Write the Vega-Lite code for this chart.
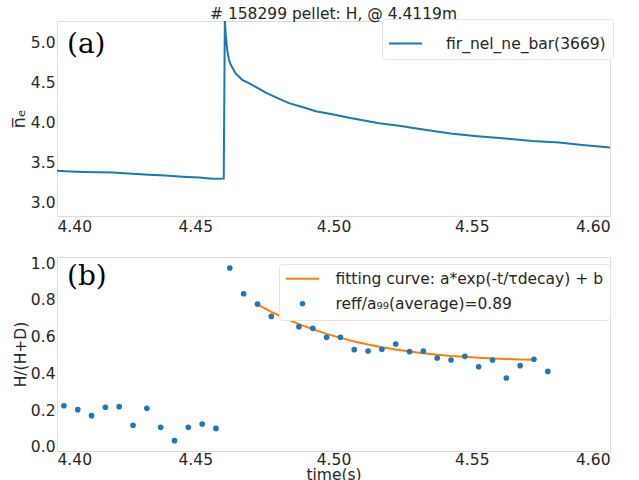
{
  "$schema": "https://vega.github.io/schema/vega-lite/v6.json",
  "background": "white",
  "padding": {"left": 9, "top": 6, "right": 5, "bottom": 0},
  "spacing": 20,
  "config": {
    "font": "DejaVu Sans",
    "view": {"stroke": "#dcdcdc", "strokeWidth": 1},
    "axis": {"domain": false, "ticks": false, "grid": false, "labelOverlap": false, "labelFontSize": 15.5, "labelColor": "#262626", "titleFontSize": 15.5, "titleFontWeight": "normal", "titleColor": "#262626", "labelPadding": 3}
  },
  "resolve": {"scale": {"color": "independent"}, "legend": {"color": "independent"}},
  "vconcat": [
    {
      "width": 553,
      "height": 195,
      "title": {"text": "# 158299 pellet: H, @ 4.4119m", "fontSize": 15.5, "fontWeight": "normal", "color": "#262626", "anchor": "middle", "offset": -4},
      "encoding": {
        "x": {"field": "t", "type": "quantitative", "scale": {"domain": [4.40, 4.60], "nice": false, "zero": false}, "axis": {"values": [4.40, 4.45, 4.50, 4.55, 4.60], "format": ".2f", "title": null, "labelOverlap": false}},
        "y": {"field": "ne", "type": "quantitative", "scale": {"domain": [2.838, 5.261], "nice": false, "zero": false}, "axis": {"values": [3.0, 3.5, 4.0, 4.5, 5.0], "format": ".1f", "title": "n̅ₑ", "titleFontSize": 18, "labelPadding": 2, "titlePadding": 2, "labelOverlap": false}}
      },
      "layer": [
        {
          "data": {"values": [
            {"t": 4.400, "ne": 3.401}, {"t": 4.405, "ne": 3.392}, {"t": 4.410, "ne": 3.386}, {"t": 4.4152, "ne": 3.381},
            {"t": 4.420, "ne": 3.378}, {"t": 4.4272, "ne": 3.364}, {"t": 4.4333, "ne": 3.350}, {"t": 4.4393, "ne": 3.340},
            {"t": 4.4453, "ne": 3.327}, {"t": 4.4514, "ne": 3.315}, {"t": 4.4562, "ne": 3.302}, {"t": 4.4603, "ne": 3.305},
            {"t": 4.4607, "ne": 5.26}, {"t": 4.4610, "ne": 5.10}, {"t": 4.4616, "ne": 4.89}, {"t": 4.4622, "ne": 4.78},
            {"t": 4.4628, "ne": 4.72}, {"t": 4.4646, "ne": 4.61}, {"t": 4.467, "ne": 4.53}, {"t": 4.4694, "ne": 4.49},
            {"t": 4.4725, "ne": 4.43}, {"t": 4.4755, "ne": 4.37}, {"t": 4.480, "ne": 4.30}, {"t": 4.4839, "ne": 4.24},
            {"t": 4.489, "ne": 4.19}, {"t": 4.4936, "ne": 4.14}, {"t": 4.500, "ne": 4.10}, {"t": 4.5056, "ne": 4.06},
            {"t": 4.5165, "ne": 3.99}, {"t": 4.5237, "ne": 3.96}, {"t": 4.533, "ne": 3.91}, {"t": 4.543, "ne": 3.86},
            {"t": 4.552, "ne": 3.83}, {"t": 4.5623, "ne": 3.80}, {"t": 4.572, "ne": 3.77}, {"t": 4.5816, "ne": 3.75},
            {"t": 4.590, "ne": 3.72}, {"t": 4.600, "ne": 3.69}
          ]},
          "mark": {"type": "line", "strokeWidth": 2, "clip": true},
          "encoding": {
            "color": {
              "datum": "fir_nel_ne_bar(3669)",
              "type": "nominal",
              "scale": {"range": ["#1f77b4"]},
              "legend": {
                "orient": "none", "legendX": 325, "legendY": -2, "title": null,
                "symbolType": "circle", "symbolSize": 100, "symbolStrokeWidth": 0,
                "labelFontSize": 15.5, "labelColor": "#262626", "labelOffset": 22, "labelLimit": 400,
                "padding": 7, "strokeColor": "#e3e3e3", "fillColor": "white", "cornerRadius": 3,
                "encode": {"symbols": {"update": {"shape": {"value": "stroke"}, "size": {"value": 1089}, "x": {"value": 16.5}, "strokeWidth": {"value": 2}, "stroke": {"value": "#1f77b4"}, "fill": {"value": "transparent"}}}}
              }
            }
          }
        },
        {
          "data": {"values": [{"t": 4.4036, "ne": 4.96, "label": "(a)"}]},
          "mark": {"type": "text", "font": "DejaVu Serif", "fontSize": 28, "align": "left", "baseline": "middle", "color": "black"},
          "encoding": {"text": {"field": "label"}}
        }
      ]
    },
    {
      "width": 553,
      "height": 194,
      "encoding": {
        "x": {"field": "t", "type": "quantitative", "scale": {"domain": [4.40, 4.60], "nice": false, "zero": false}, "axis": {"values": [4.40, 4.45, 4.50, 4.55, 4.60], "format": ".2f", "title": "time(s)", "labelPadding": 1, "titlePadding": 0, "labelOverlap": false}},
        "y": {"field": "r", "type": "quantitative", "scale": {"domain": [-0.022, 1.033], "nice": false, "zero": false}, "axis": {"values": [0.0, 0.2, 0.4, 0.6, 0.8, 1.0], "format": ".1f", "title": "H/(H+D)", "labelPadding": 2, "titlePadding": 2, "labelOverlap": false}}
      },
      "layer": [
        {
          "data": {"values": [
            {"t": 4.4725, "r": 0.775}, {"t": 4.4775, "r": 0.735}, {"t": 4.4825, "r": 0.700}, {"t": 4.4875, "r": 0.668},
            {"t": 4.4925, "r": 0.640}, {"t": 4.4975, "r": 0.615}, {"t": 4.5025, "r": 0.593}, {"t": 4.5075, "r": 0.574},
            {"t": 4.5125, "r": 0.557}, {"t": 4.5175, "r": 0.542}, {"t": 4.5225, "r": 0.530}, {"t": 4.5275, "r": 0.519},
            {"t": 4.5325, "r": 0.510}, {"t": 4.5375, "r": 0.502}, {"t": 4.5425, "r": 0.495}, {"t": 4.5475, "r": 0.490},
            {"t": 4.5525, "r": 0.485}, {"t": 4.5575, "r": 0.481}, {"t": 4.5625, "r": 0.478}, {"t": 4.5675, "r": 0.476},
            {"t": 4.5725, "r": 0.474}
          ]},
          "mark": {"type": "line", "strokeWidth": 2, "color": "#ff7f0e"},
          "encoding": {
            "color": {
              "datum": "fitting curve: a*exp(-t/τdecay) + b",
              "type": "nominal",
              "scale": {"domain": ["fitting curve: a*exp(-t/τdecay) + b", "reff/a₉₉(average)=0.89"], "range": ["#ff7f0e", "#1f77b4"]},
              "legend": {
                "orient": "none", "legendX": 222, "legendY": 7, "title": null,
                "symbolType": "circle", "symbolSize": 100, "symbolStrokeWidth": 0,
                "labelFontSize": 15.5, "labelColor": "#262626", "labelOffset": 34, "labelLimit": 400, "rowPadding": 8,
                "padding": 7, "strokeColor": "#e3e3e3", "fillColor": "white", "cornerRadius": 3,
                "encode": {"symbols": {"update": {
                  "shape": {"signal": "datum.index === 0 ? 'stroke' : 'circle'"},
                  "size": {"signal": "datum.index === 0 ? 1089 : 30"},
                  "strokeWidth": {"signal": "datum.index === 0 ? 2 : 0"},
                  "stroke": {"signal": "datum.index === 0 ? '#ff7f0e' : '#1f77b4'"},
                  "fill": {"signal": "datum.index === 0 ? 'transparent' : '#1f77b4'"},
                  "x": {"value": 16.5}
                }}}
              }
            }
          }
        },
        {
          "data": {"values": [
            {"t": 4.4025, "r": 0.224}, {"t": 4.4075, "r": 0.203}, {"t": 4.4125, "r": 0.170}, {"t": 4.4175, "r": 0.216},
            {"t": 4.4225, "r": 0.219}, {"t": 4.4275, "r": 0.118}, {"t": 4.4325, "r": 0.210}, {"t": 4.4375, "r": 0.107},
            {"t": 4.4425, "r": 0.034}, {"t": 4.4475, "r": 0.107}, {"t": 4.4525, "r": 0.125}, {"t": 4.4575, "r": 0.101},
            {"t": 4.4625, "r": 0.973}, {"t": 4.4675, "r": 0.833}, {"t": 4.4725, "r": 0.777}, {"t": 4.4775, "r": 0.710},
            {"t": 4.4825, "r": 0.701}, {"t": 4.4875, "r": 0.654}, {"t": 4.4925, "r": 0.645}, {"t": 4.4975, "r": 0.596},
            {"t": 4.5025, "r": 0.596}, {"t": 4.5075, "r": 0.529}, {"t": 4.5125, "r": 0.522}, {"t": 4.5175, "r": 0.531},
            {"t": 4.5225, "r": 0.560}, {"t": 4.5275, "r": 0.518}, {"t": 4.5325, "r": 0.522}, {"t": 4.5375, "r": 0.484},
            {"t": 4.5425, "r": 0.473}, {"t": 4.5475, "r": 0.493}, {"t": 4.5525, "r": 0.436}, {"t": 4.5575, "r": 0.473},
            {"t": 4.5625, "r": 0.375}, {"t": 4.5675, "r": 0.442}, {"t": 4.5725, "r": 0.477}, {"t": 4.5775, "r": 0.411}
          ]},
          "mark": {"type": "point", "filled": true, "size": 32, "opacity": 1},
          "encoding": {
            "color": {"datum": "reff/a₉₉(average)=0.89", "type": "nominal"}
          }
        },
        {
          "data": {"values": [{"t": 4.4036, "r": 0.924, "label": "(b)"}]},
          "mark": {"type": "text", "font": "DejaVu Serif", "fontSize": 28, "align": "left", "baseline": "middle", "color": "black"},
          "encoding": {"text": {"field": "label"}}
        }
      ]
    }
  ]
}
